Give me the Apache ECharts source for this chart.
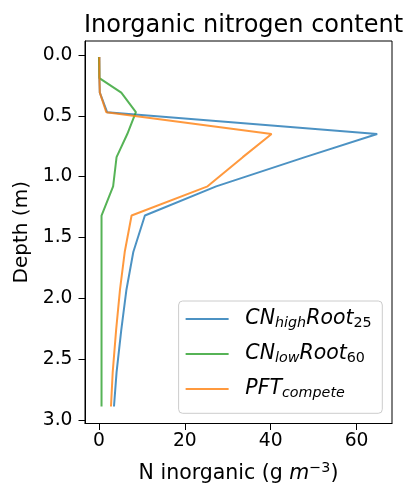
<!DOCTYPE html>
<html>
<head>
<meta charset="utf-8">
<script src="https://cdn.jsdelivr.net/npm/echarts@6/dist/echarts.min.js"></script>
<style>html,body{margin:0;padding:0;background:#fff;}#c{width:403px;height:489px;}</style>
</head>
<body>
<div id="c"></div>
<script>
// Depth (m) of each node
var depths = [0.016, 0.19, 0.31, 0.47, 0.65, 0.84, 1.08, 1.32, 1.62, 1.93, 2.26, 2.61, 2.89];
// N inorganic (g m-3)
var cnHighRoot25 = [0.1, 0.1, 0.2, 1.9, 64.8, 48.0, 27.3, 10.7, 8.0, 6.4, 5.2, 4.1, 3.5];
var cnLowRoot60  = [0.0, 0.1, 5.2, 8.6, 6.6, 4.1, 3.3, 0.6, 0.6, 0.6, 0.6, 0.6, 0.6];
var pftCompete   = [0.1, 0.1, 0.2, 1.7, 40.2, 33.5, 25.3, 7.6, 6.0, 4.9, 4.0, 3.2, 2.8];
var seriesNames = ['CNhighRoot25', 'CNlowRoot60', 'PFTcompete'];
var xTicks = [0, 20, 40, 60];
var yTicks = [0.0, 0.5, 1.0, 1.5, 2.0, 2.5, 3.0];

var FONT = 'DejaVu Sans';
function pairs(vals) { return vals.map(function (v, i) { return [v, depths[i]]; }); }
var legendRich = {
  'CNhighRoot25': '{f|CN}{s|high}{m|Root}{n|25}',
  'CNlowRoot60': '{f|CN}{s|low}{m|Root}{n|60}',
  'PFTcompete': '{f|PFT}{s|compete}'
};
var colors = ['#1f77b4', '#2ca02c', '#ff7f0e'];
var chart = echarts.init(document.getElementById('c'), null, {renderer: 'canvas'});
var LF = 20.5, SF = 14.3;
function tok(size, italic, pad) {
  var o = {fontFamily: FONT, fontSize: size, color: '#000'};
  if (italic) o.fontStyle = 'italic';
  if (pad) o.padding = pad;
  return o;
}
var option = {
  animation: false,
  backgroundColor: '#fff',
  title: {
    text: 'Inorganic nitrogen content',
    left: 238.5, top: 9, textAlign: 'center',
    textStyle: {fontFamily: FONT, fontSize: 24, fontWeight: 'normal', color: '#000'}
  },
  grid: {left: 85, right: 11, top: 41, bottom: 65, show: true, borderColor: '#000', borderWidth: 1, backgroundColor: 'transparent'},
  xAxis: {
    type: 'value', min: -3.25, max: 68.25,
    name: '{t|N inorganic (g }{i|m}{p|−3}{t|)}',
    nameLocation: 'middle', nameGap: 38,
    nameTextStyle: {
      rich: {
        t: {fontFamily: FONT, fontSize: 20.5, color: '#000'},
        i: {fontFamily: FONT, fontSize: 20.5, fontStyle: 'italic', color: '#000'},
        p: {fontFamily: FONT, fontSize: 14.3, color: '#000', padding: [0, 0, 10, 0]}
      }
    },
    splitLine: {show: false},
    axisLine: {show: true, onZero: false, lineStyle: {color: '#000', width: 1}},
    axisTick: {show: true, length: 6.5, inside: false, customValues: xTicks, lineStyle: {color: '#000'}},
    axisLabel: {customValues: xTicks, margin: 8, fontFamily: FONT, fontSize: 18.7, color: '#000'}
  },
  yAxis: {
    type: 'value', inverse: true, min: -0.115, max: 3.03,
    name: 'Depth (m)', nameLocation: 'middle', nameGap: 52, nameRotate: 90,
    nameTextStyle: {fontFamily: FONT, fontSize: 20, color: '#000'},
    splitLine: {show: false},
    axisLine: {show: true, onZero: false, lineStyle: {color: '#000', width: 1}},
    axisTick: {show: true, length: 6.5, customValues: yTicks, lineStyle: {color: '#000'}},
    axisLabel: {customValues: yTicks, margin: 12.5, fontFamily: FONT, fontSize: 18.7, color: '#000',
      formatter: function (v) { return v.toFixed(1); }}
  },
  legend: {
    orient: 'vertical', right: 20.7, bottom: 75.7,
    padding: [7.9, 10.6, 13.4, 7],
    icon: 'rect',
    itemWidth: 43, itemHeight: 2, itemGap: 14,
    backgroundColor: 'rgba(255,255,255,0.8)', borderColor: '#cccccc', borderWidth: 1, borderRadius: 4,
    data: seriesNames,
    formatter: function (name) { return legendRich[name]; },
    textStyle: {
      rich: {
        f: tok(LF, true, [0, 0, 0, 11.7]),
        m: tok(LF, true),
        s: tok(SF, true, [8, 0, 0, 0]),
        n: tok(SF, false, [8, 0, 0, 0])
      }
    }
  },
  series: [cnHighRoot25, cnLowRoot60, pftCompete].map(function (vals, k) {
    return {
      name: seriesNames[k], type: 'line', data: pairs(vals),
      symbol: 'none', showSymbol: false, smooth: false,
      lineStyle: {color: colors[k], width: 2, opacity: 0.8},
      itemStyle: {color: colors[k], opacity: 0.8}
    };
  })
};
chart.setOption(option);
</script>
</body>
</html>
